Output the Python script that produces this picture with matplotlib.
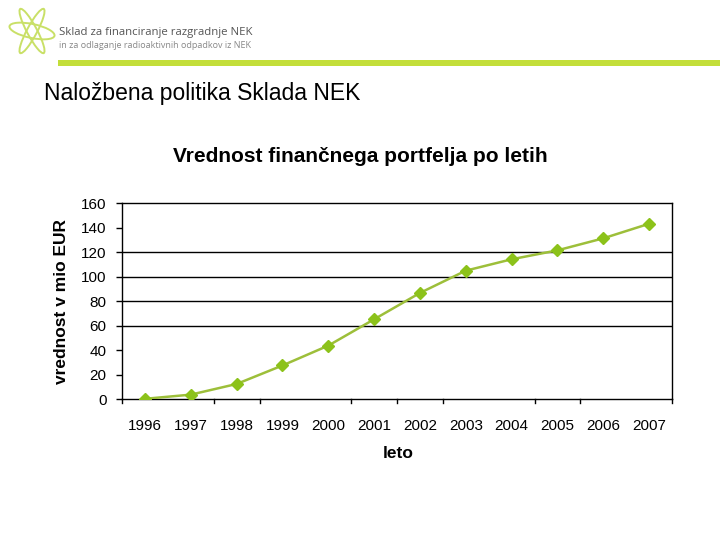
import matplotlib
matplotlib.use("Agg")
import matplotlib.pyplot as plt
from matplotlib.patches import Ellipse, Rectangle

years = ["1996", "1997", "1998", "1999", "2000", "2001", "2002", "2003", "2004", "2005", "2006", "2007"]
values = [0.4, 3.8, 12.5, 27.6, 43.8, 65.3, 86.8, 105.0, 114.3, 121.6, 131.4, 143.3]
y_ticks = [0, 20, 40, 60, 80, 100, 120, 140, 160]
visible_grid = [60, 80, 100, 120]
visible_xticks = [0, 2, 3, 5, 6, 7, 9, 10, 12]  # category boundaries shown

plt.rcParams['font.family'] = ['Liberation Sans', 'DejaVu Sans']

W, H = 720, 540
fig = plt.figure(figsize=(7.2, 5.4), dpi=100)

def fx(x):
    return x / W

def fy(y):
    return 1 - y / H

# header: logo
for ang, w, h in ((-10, 46, 14), (62, 50, 11), (118, 50, 11)):
    fig.add_artist(Ellipse((fx(32), fy(31)), width=fx(w), height=h / H, angle=0,
                           transform=fig.transFigure, fill=False, edgecolor='none'))
import matplotlib.transforms as mtrans
for ang, w, h in ((-12, 46, 14), (62, 50, 10), (118, 50, 10)):
    tr = mtrans.Affine2D().rotate_deg_around(32, H - 31, ang)
    e = Ellipse((32, H - 31), width=w, height=h, fill=False, edgecolor='#C9E067', lw=1.4,
                transform=tr + mtrans.IdentityTransform())
    fig.add_artist(e)
fig.add_artist(Rectangle((fx(58), fy(66)), fx(662), 6 / H, transform=fig.transFigure,
                         facecolor='#C3DE3A', edgecolor='none'))
fig.text(fx(59), fy(33), "Sklad za financiranje razgradnje NEK", fontsize=8.2,
         color='#555555', va='center', ha='left', family=['Open Sans', 'DejaVu Sans'])
fig.text(fx(59), fy(45.5), "in za odlaganje radioaktivnih odpadkov iz NEK", fontsize=6.5,
         color='#888888', va='center', ha='left', family=['Open Sans', 'DejaVu Sans'])

fig.text(fx(44), fy(93.5), "Naložbena politika Sklada NEK", fontsize=16.5, color='black',
         va='center', ha='left')

# chart
ax = fig.add_axes([fx(122), fy(399.3), fx(550), 196 / H])
x = list(range(len(years)))
ax.plot(x, values, color='#9DBF3A', lw=1.8, marker='D', markersize=6,
        markerfacecolor='#8CC21A', markeredgecolor='#8CC21A', zorder=3)
ax.set_xlim(-0.5, len(years) - 0.5)
ax.set_ylim(0, 160)
ax.set_yticks(y_ticks)
ax.set_yticklabels([str(v) for v in y_ticks], fontsize=11)
for g in visible_grid:
    ax.axhline(g, color='black', lw=1.0, zorder=1)

ax.set_xticks(x)
ax.set_xticklabels(years, fontsize=11)
ax.tick_params(axis='x', length=0, pad=14)
for b in visible_xticks:
    ax.plot([b - 0.5, b - 0.5], [0, -3.2], color='black', lw=1.0, clip_on=False)
ax.tick_params(axis='y', length=4.5, width=1.0, pad=6.5)
for s in ax.spines.values():
    s.set_color('black')
    s.set_linewidth(1.0)

fig.text(fx(360), fy(157), "Vrednost finančnega portfelja po letih", fontsize=15,
         fontweight='bold', ha='center', va='center')
fig.text(fx(62), fy(301), "vrednost v mio EUR", fontsize=12.5, fontweight='bold',
         rotation=90, ha='center', va='center')
fig.text(fx(398), fy(454), "leto", fontsize=12.5, fontweight='bold', ha='center', va='center')

fig.savefig("out.png", dpi=100)
